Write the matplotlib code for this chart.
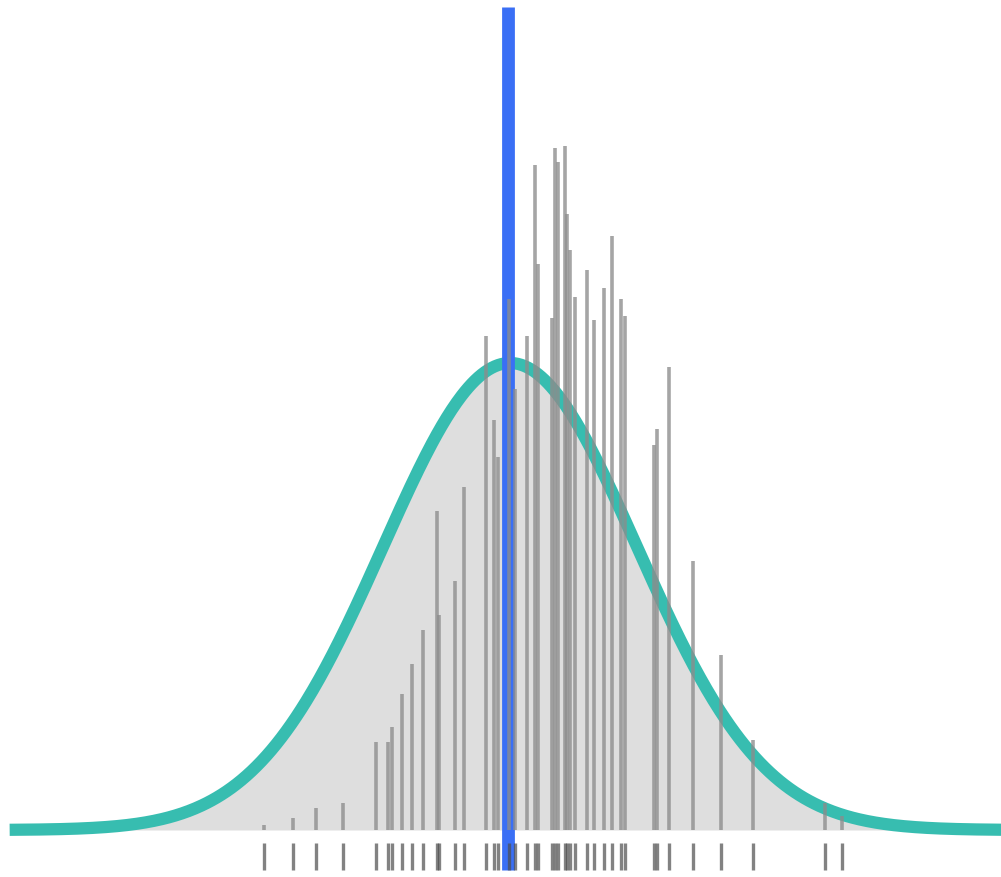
import matplotlib
matplotlib.use("Agg")
import matplotlib.pyplot as plt
import numpy as np

# observed values (x) and how often each one occurs (height of the spike)
values = [30.63, 32.91, 34.72, 36.85, 39.45, 40.39, 40.71, 41.50, 42.28, 43.15,
          44.25, 44.41, 45.67, 46.38, 48.11, 48.74, 49.06, 49.92, 50.39, 51.34,
          51.97, 52.20, 53.31, 53.54, 53.78, 54.33, 54.49, 54.72, 55.12, 56.06,
          56.61, 57.40, 58.03, 58.74, 59.06, 61.34, 61.57, 62.52, 64.41, 66.61,
          69.13, 74.80, 76.14]
heights = [0.5, 1.2, 2.2, 2.7, 8.8, 8.8, 10.3, 13.6, 16.6, 20.0,
           31.9, 21.5, 24.9, 34.3, 49.4, 41.0, 37.3, 53.1, 44.1, 49.4,
           66.5, 56.6, 51.2, 68.2, 66.8, 68.4, 61.6, 58.0, 53.3, 56.0,
           51.0, 54.2, 59.4, 53.1, 51.4, 38.5, 40.1, 46.3, 26.9, 17.5,
           9.0, 2.7, 1.4]

mu = 50.0          # normal curve centre
sigma = 10.0       # normal curve spread
peak = 46.7        # curve height at the centre
marker = 49.84     # blue reference line

fig = plt.figure(figsize=(10.01, 8.77), dpi=100)
ax = fig.add_axes([0, 0, 1, 1])

xs = np.linspace(10.6, 88.7, 600)
curve = peak * np.exp(-0.5 * ((xs - mu) / sigma) ** 2)

ax.fill_between(xs, 0, curve, color="#dedede", lw=0, zorder=1)
ax.plot(xs, curve, color="#37bdb0", lw=8.8, solid_capstyle="butt", zorder=2)

# blue line below the spikes
ax.vlines(marker, -4.0, 82.3, color="#3a6ff5", lw=9.2, zorder=3)

# spikes
ax.vlines(values, 0, heights, color="#8c8c8c", lw=2.6, alpha=0.78, zorder=4)

# rug under the baseline
ax.vlines(values, -1.3, -4.0, color="#4d4d4d", lw=2.4, alpha=0.7, zorder=4)

ax.set_xlim(9.84, 88.66)
ax.set_ylim(-4.7, 83.0)
ax.axis("off")

fig.savefig("out.png", dpi=100)
